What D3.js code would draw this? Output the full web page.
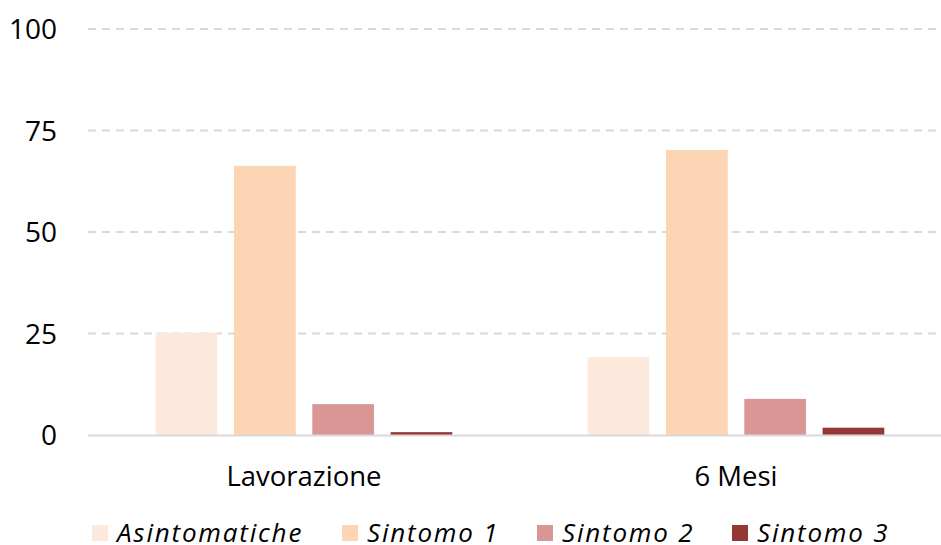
<!DOCTYPE html>
<html>
<head>
<meta charset="utf-8">
<script src="https://cdn.jsdelivr.net/npm/d3@7"></script>
<style>
  html, body { margin: 0; padding: 0; background: #fff; }
  svg { display: block; font-family: "Open Sans", "Noto Sans", sans-serif; }
</style>
</head>
<body>
<svg id="chart" width="941" height="545"></svg>
<script>
// Categories, series and tick values
const categories = ["Lavorazione", "6 Mesi"];
const seriesNames = ["Asintomatiche", "Sintomo 1", "Sintomo 2", "Sintomo 3"];
const asintomatiche = [25.2, 19.2];
const sintomo1 = [66.3, 70.2];
const sintomo2 = [7.6, 8.9];
const sintomo3 = [0.7, 1.8];
const yTicks = [0, 25, 50, 75, 100];
const seriesColors = ["#FCE9DB", "#FCD5B5", "#D99694", "#953735"];

const seriesValues = [asintomatiche, sintomo1, sintomo2, sintomo3];

const svg = d3.select("#chart");

const plotLeft = 88, plotRight = 952, gridRight = 937;
const yTop = 29, yBottom = 435;

const x0 = d3.scaleBand().domain(categories).range([plotLeft, plotRight]);
const groupWidth = 296.6;
const x1 = d3.scaleBand()
  .domain(seriesNames)
  .range([(x0.bandwidth() - groupWidth) / 2, (x0.bandwidth() + groupWidth) / 2])
  .paddingInner(0.212);

const y = d3.scaleLinear().domain([0, 100]).range([yBottom, yTop]);
const color = d3.scaleOrdinal().domain(seriesNames).range(seriesColors);

// Dashed horizontal gridlines (zero line drawn solid below)
svg.append("g")
  .selectAll("line")
  .data(yTicks.filter(t => t !== 0))
  .join("line")
  .attr("x1", plotLeft)
  .attr("x2", gridRight)
  .attr("y1", d => y(d))
  .attr("y2", d => y(d))
  .attr("stroke", "#D9D9D9")
  .attr("stroke-width", 2)
  .attr("stroke-dasharray", "8,6");

// Y axis tick labels
const yAxis = d3.axisLeft(y).tickValues(yTicks).tickSize(0).tickPadding(0);
const yg = svg.append("g").attr("transform", "translate(57,0)").call(yAxis);
yg.select(".domain").remove();
yg.selectAll("text")
  .attr("font-family", "'Open Sans', sans-serif")
  .attr("font-size", 28)
  .attr("fill", "#000")
  .attr("dy", "0.35em");

// Bars
const groups = svg.append("g")
  .selectAll("g")
  .data(categories)
  .join("g")
  .attr("transform", d => `translate(${x0(d)},0)`);

groups.selectAll("rect")
  .data((c, ci) => seriesNames.map((s, si) => ({ series: s, value: seriesValues[si][ci] })))
  .join("rect")
  .attr("x", d => x1(d.series))
  .attr("width", x1.bandwidth())
  .attr("y", d => y(d.value))
  .attr("height", d => y(0) - y(d.value))
  .attr("fill", d => color(d.series));

// Baseline
svg.append("line")
  .attr("x1", plotLeft)
  .attr("x2", 941)
  .attr("y1", y(0) + 0.5)
  .attr("y2", y(0) + 0.5)
  .attr("stroke", "#D9D9D9")
  .attr("stroke-width", 2);

// Category labels
const xAxis = d3.axisBottom(x0).tickSize(0).tickPadding(0);
const xg = svg.append("g").attr("transform", "translate(0,486)").call(xAxis);
xg.select(".domain").remove();
xg.selectAll("text")
  .attr("font-family", "'Open Sans', sans-serif")
  .attr("font-size", 27.5)
  .attr("fill", "#000")
  .attr("dy", 0);

// Legend
const legendItems = [
  { name: seriesNames[0], x: 92 },
  { name: seriesNames[1], x: 342 },
  { name: seriesNames[2], x: 537 },
  { name: seriesNames[3], x: 732 }
];
const legend = svg.append("g")
  .selectAll("g")
  .data(legendItems)
  .join("g")
  .attr("transform", d => `translate(${d.x},525)`);
legend.append("rect")
  .attr("width", 16)
  .attr("height", 16)
  .attr("fill", d => color(d.name));
legend.append("text")
  .attr("x", 25)
  .attr("y", 17)
  .attr("font-family", "'Open Sans', sans-serif")
  .attr("font-style", "italic")
  .attr("font-size", 26)
  .attr("letter-spacing", "1.8px")
  .attr("fill", "#000")
  .text(d => d.name);
</script>
</body>
</html>
